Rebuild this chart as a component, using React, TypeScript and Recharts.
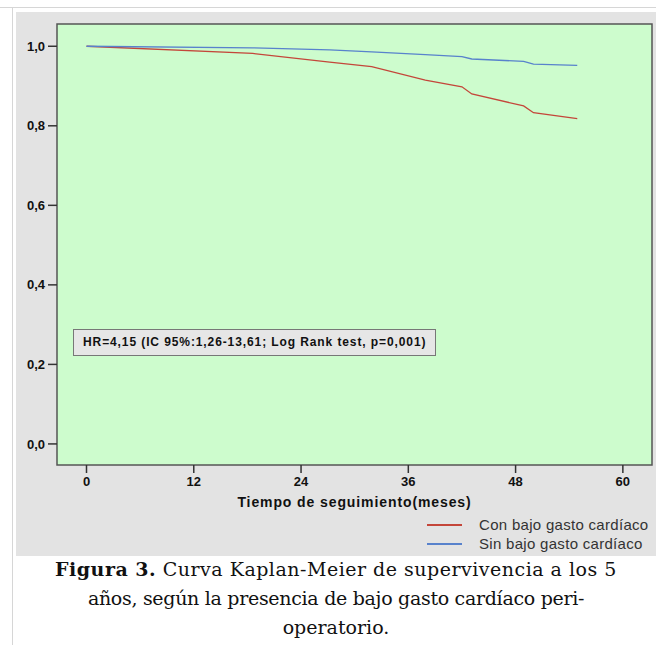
import React from "react";
import {
  LineChart,
  Line,
  XAxis,
  YAxis,
  ReferenceArea,
  Legend,
} from "recharts";

// Follow-up time (months) and survival estimates
const months = [0, 18.6, 27.2, 31.9, 37.9, 42.0, 43.1, 48.9, 50.0, 54.9];
const conBajoGasto = [1.0, 0.982, 0.96, 0.949, 0.915, 0.898, 0.88, 0.85, 0.833, 0.818];
const sinBajoGasto = [1.0, 0.996, 0.991, 0.986, 0.979, 0.974, 0.968, 0.962, 0.955, 0.952];

const xTicks = [0, 12, 24, 36, 48, 60];
const yTicks = [0, 0.2, 0.4, 0.6, 0.8, 1.0];
const xDomain = [-3.3, 63.26];
const yDomain = [-0.053, 1.056];

const seriesNames = ["Con bajo gasto cardíaco", "Sin bajo gasto cardíaco"];
const hrText = "HR=4,15 (IC 95%:1,26-13,61; Log Rank test, p=0,001)";

const RED = "#c4463a";
const BLUE = "#5882cc";
const SANS = '"Liberation Sans", Arial, sans-serif';

const data = months.map((m, i) => ({
  month: m,
  con: conBajoGasto[i],
  sin: sinBajoGasto[i],
}));

const fmtY = (v: number) => v.toFixed(1).replace(".", ",");

// Legend drawn from the series payload
const renderLegend = ({ payload }: { payload?: Array<{ value: string; color: string }> }) => (
  <div style={{ fontFamily: SANS, fontSize: 15, color: "#333", letterSpacing: 0.3 }}>
    {(payload ?? []).map((item) => (
      <div key={item.value} style={{ display: "flex", alignItems: "center", height: 19 }}>
        <span style={{ display: "inline-block", width: 35, height: 2, background: item.color, marginRight: 17 }} />
        <span>{item.value}</span>
      </div>
    ))}
  </div>
);

export default function App() {
  return (
    <div style={{ position: "absolute", left: 0, top: 0, width: 656, height: 645, background: "#fff", overflow: "hidden" }}>
      {/* outer frame lines */}
      <div style={{ position: "absolute", left: 0, top: 7, width: 656, height: 1, background: "#d6d6d6" }} />
      <div style={{ position: "absolute", left: 12, top: 7, width: 1, height: 638, background: "#d6d6d6" }} />
      {/* gray panel */}
      <div style={{ position: "absolute", left: 16, top: 12, width: 640, height: 544, background: "#e3e3e3" }} />

      <div style={{ position: "absolute", left: 0, top: 0 }}>
        <LineChart width={656} height={560} data={data} margin={{ top: 24, right: 4, bottom: 47, left: 0 }}>
          <ReferenceArea
            x1={xDomain[0]}
            x2={xDomain[1]}
            y1={yDomain[0]}
            y2={yDomain[1]}
            fill="#cdfccd"
            fillOpacity={1}
            stroke="#555"
            strokeWidth={1.5}
            ifOverflow="visible"
          />
          <XAxis
            dataKey="month"
            type="number"
            domain={xDomain}
            ticks={xTicks}
            allowDataOverflow
            height={48}
            axisLine={false}
            tickLine={{ stroke: "#333", strokeWidth: 1.5 }}
            tickSize={8}
            tickMargin={4}
            tick={{ fill: "#111", fontSize: 13, fontWeight: 700, fontFamily: SANS }}
            label={{
              value: "Tiempo de seguimiento(meses)",
              position: "insideBottom",
              offset: 6,
              fill: "#111",
              fontSize: 14,
              fontWeight: 700,
              fontFamily: SANS,
              letterSpacing: 0.9,
            }}
          />
          <YAxis
            type="number"
            domain={yDomain}
            ticks={yTicks}
            allowDataOverflow
            width={57}
            axisLine={false}
            tickLine={{ stroke: "#333", strokeWidth: 1.5 }}
            tickSize={9}
            tickMargin={3}
            tickFormatter={fmtY}
            tick={{ fill: "#111", fontSize: 13, fontWeight: 700, fontFamily: SANS }}
          />
          <Line
            type="linear"
            dataKey="con"
            name={seriesNames[0]}
            stroke={RED}
            strokeWidth={1.3}
            dot={false}
            isAnimationActive={false}
          />
          <Line
            type="linear"
            dataKey="sin"
            name={seriesNames[1]}
            stroke={BLUE}
            strokeWidth={1.3}
            dot={false}
            isAnimationActive={false}
          />
          <Legend
            layout="horizontal"
            verticalAlign="middle"
            align="center"
            content={renderLegend}
            wrapperStyle={{ position: "absolute", left: 427, top: 515, width: 229 }}
            payload={[
              { value: seriesNames[0], type: "line", color: "#c0282e" },
              { value: seriesNames[1], type: "line", color: "#4a68ae" },
            ]}
          />
        </LineChart>
      </div>

      {/* HR annotation */}
      <div
        style={{
          position: "absolute",
          left: 73,
          top: 329,
          height: 27,
          boxSizing: "border-box",
          border: "1.5px solid #777",
          background: "#e6e6e6",
          padding: "0 9px",
          fontFamily: SANS,
          fontSize: 12,
          fontWeight: 700,
          letterSpacing: 0.9,
          lineHeight: "24px",
          color: "#111",
          whiteSpace: "nowrap",
        }}
      >
        {hrText}
      </div>

      {/* caption */}
      <div
        style={{
          position: "absolute",
          left: 16,
          top: 555,
          width: 640,
          textAlign: "center",
          fontFamily: '"DejaVu Serif", serif',
          fontSize: 19,
          lineHeight: "29px",
          color: "#111",
          whiteSpace: "nowrap",
        }}
      >
        <div style={{ letterSpacing: 0.5 }}>
          <b>Figura 3.</b> Curva Kaplan-Meier de supervivencia a los 5
        </div>
        <div style={{ letterSpacing: -0.3 }}>años, según la presencia de bajo gasto cardíaco peri-</div>
        <div>operatorio.</div>
      </div>
    </div>
  );
}
